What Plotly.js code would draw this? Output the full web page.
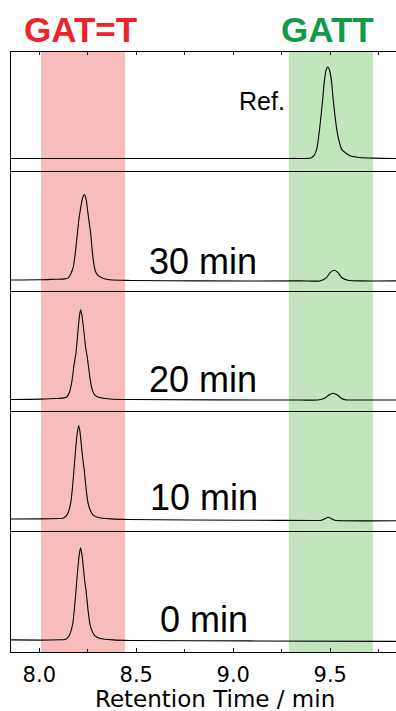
<!DOCTYPE html>
<html>
<head>
<meta charset="utf-8">
<script src="https://cdn.plot.ly/plotly-3.0.1.min.js"></script>
<style>
  html, body { margin: 0; padding: 0; background: #fff; }
  #chart { width: 396px; height: 711px; }
</style>
</head>
<body>
<div id="chart"></div>
<script>
// ---- Data (time in min, normalized signal) ----
const panelLabels = ['Ref.', '30 min', '20 min', '10 min', '0 min'];
const bandLabels = ['GAT=T', 'GATT'];
const bandRanges = [[8.009, 8.442], [9.287, 9.72]];
const majorTicks = [8.0, 8.5, 9.0, 9.5];
const majorTickText = ['8.0', '8.5', '9.0', '9.5'];

const timeRef = [7.854, 9.300, 9.400, 9.416, 9.430, 9.443, 9.461, 9.469, 9.478, 9.487, 9.497, 9.507, 9.515, 9.536, 9.559, 9.602, 9.650, 9.720, 9.839];
const signalRef = [0, 0, 0.005, 0.03, 0.098, 0.283, 0.641, 0.826, 0.95, 0.99, 0.95, 0.826, 0.641, 0.283, 0.098, 0.029, 0.01, 0.003, 0];

const time30 = [7.854, 8.004, 8.081, 8.132, 8.149, 8.163, 8.175, 8.187, 8.196, 8.205, 8.211, 8.222, 8.232, 8.241, 8.249, 8.258, 8.265, 8.274, 8.284, 8.292, 8.304, 8.328, 8.364, 8.468, 8.828, 9.344, 9.447, 9.478, 9.499, 9.521, 9.540, 9.560, 9.591, 9.653, 9.839];
const signal30 = [0.01, 0.012, 0.018, 0.022, 0.033, 0.08, 0.149, 0.33, 0.511, 0.68, 0.761, 0.89, 0.935, 0.89, 0.761, 0.62, 0.511, 0.3, 0.149, 0.09, 0.058, 0.03, 0.012, 0.005, 0, 0, 0, 0.03, 0.09, 0.116, 0.09, 0.035, 0.008, 0, 0];

const time20 = [7.854, 8.004, 8.081, 8.117, 8.141, 8.156, 8.169, 8.179, 8.189, 8.199, 8.207, 8.213, 8.220, 8.230, 8.239, 8.247, 8.259, 8.269, 8.282, 8.296, 8.323, 8.364, 8.468, 9.344, 9.437, 9.473, 9.493, 9.515, 9.537, 9.555, 9.576, 9.653, 9.839];
const signal20 = [0.005, 0.009, 0.016, 0.02, 0.033, 0.087, 0.217, 0.38, 0.511, 0.739, 0.913, 0.978, 0.913, 0.739, 0.565, 0.467, 0.272, 0.141, 0.065, 0.038, 0.022, 0.011, 0.005, 0, 0, 0.022, 0.054, 0.073, 0.054, 0.022, 0.003, 0, 0];

const time10 = [7.854, 8.004, 8.097, 8.122, 8.143, 8.162, 8.171, 8.179, 8.184, 8.189, 8.196, 8.203, 8.210, 8.217, 8.224, 8.231, 8.241, 8.251, 8.264, 8.277, 8.303, 8.370, 8.458, 9.086, 9.420, 9.455, 9.470, 9.490, 9.508, 9.525, 9.839];
const signal10 = [0.011, 0.012, 0.016, 0.02, 0.055, 0.185, 0.354, 0.552, 0.685, 0.806, 0.95, 1.022, 0.95, 0.806, 0.663, 0.552, 0.343, 0.185, 0.10, 0.055, 0.027, 0.012, 0.005, -0.002, -0.005, -0.002, 0.012, 0.03, 0.012, -0.003, -0.008];

const time0 = [7.854, 8.004, 8.107, 8.132, 8.153, 8.172, 8.181, 8.189, 8.194, 8.199, 8.206, 8.213, 8.220, 8.227, 8.234, 8.241, 8.251, 8.261, 8.274, 8.287, 8.313, 8.380, 8.468, 9.086, 9.839];
const signal0 = [0.011, 0.009, 0.013, 0.016, 0.054, 0.182, 0.348, 0.543, 0.674, 0.793, 0.935, 1.008, 0.935, 0.793, 0.652, 0.543, 0.337, 0.182, 0.098, 0.054, 0.027, 0.011, 0.005, 0, -0.005];

// ---- Build figure ----
const FONT = 'Arial, "Liberation Sans", sans-serif';
const AXFONT = '"DejaVu Sans", sans-serif';
const XR = [7.854, 9.839];
const series = [
  {t: timeRef, s: signalRef, ax: '5', base: -0.147},
  {t: time30, s: signal30, ax: '4', base: -0.12},
  {t: time20, s: signal20, ax: '3', base: -0.13},
  {t: time10, s: signal10, ax: '2', base: -0.13},
  {t: time0, s: signal0, ax: '', base: -0.12}
];
const SPAN = 1.3;
const LW = 1.4;

const traces = series.map(p => ({
  x: p.t, y: p.s, type: 'scatter', mode: 'lines',
  xaxis: 'x' + p.ax, yaxis: 'y' + p.ax,
  line: {color: '#000', width: 1.1, shape: 'spline', smoothing: 0.6},
  hoverinfo: 'skip', showlegend: false
}));

const layout = {
  width: 396, height: 711,
  margin: {l: 11, r: 0, t: 52, b: 59, pad: 0},
  paper_bgcolor: '#fff', plot_bgcolor: 'rgba(0,0,0,0)',
  showlegend: false,
  font: {family: FONT, color: '#000'},
  shapes: [], annotations: []
};

series.forEach((p, i) => {
  const k = p.ax;
  const slot = 4 - i; // bottom = 0
  const isBottom = k === '';
  const isTop = k === '5';
  const xa = {
    range: XR, domain: [0, 1], anchor: 'y' + k,
    showline: true, linecolor: '#000', linewidth: LW,
    mirror: isBottom,
    showgrid: false, zeroline: false,
    side: isBottom ? 'bottom' : 'top',
    ticks: (isBottom || isTop) ? 'inside' : '',
    tickcolor: '#000', tickwidth: 1,
    ticklen: isBottom ? 4 : 3,
    showticklabels: isBottom,
    fixedrange: true
  };
  if (isBottom) {
    xa.tickmode = 'array';
    xa.tickvals = majorTicks;
    xa.ticktext = majorTickText;
    xa.tickfont = {size: 21, family: AXFONT, color: '#000'};
    xa.ticklabelstandoff = 3;
    xa.minor = {tickmode: 'linear', tick0: 8.0, dtick: 0.25, ticks: 'inside', ticklen: 3, tickcolor: '#000', tickwidth: 1};
  } else {
    xa.matches = 'x';
    xa.tickmode = 'linear';
    xa.tick0 = 8.0;
    xa.dtick = 0.25;
  }
  layout['xaxis' + k] = xa;
  layout['yaxis' + k] = {
    domain: [slot * 0.2, slot * 0.2 + 0.2], anchor: 'x' + k,
    range: [p.base, p.base + SPAN],
    showline: true, linecolor: '#000', linewidth: LW, mirror: false,
    showgrid: false, zeroline: false, ticks: '', showticklabels: false,
    fixedrange: true
  };
});

// shaded retention windows
const bandColors = ['rgb(249,188,188)', 'rgb(194,229,189)'];
bandRanges.forEach((r, i) => {
  layout.shapes.push({
    type: 'rect', xref: 'x', yref: 'paper', x0: r[0], x1: r[1], y0: 0, y1: 1,
    fillcolor: bandColors[i], line: {width: 0}, layer: 'below'
  });
});

// band titles
const bandTextColors = ['#ee2329', '#139a48'];
const bandTextX = [8.21, 9.486];
bandLabels.forEach((t, i) => {
  layout.annotations.push({
    text: '<b>' + t + '</b>', xref: 'x', yref: 'paper', x: bandTextX[i], y: 1.0367,
    xanchor: 'center', yanchor: 'middle', showarrow: false,
    font: {size: 35, family: FONT, color: bandTextColors[i]}
  });
});

// panel labels
const labelPos = [
  {ax: '5', x: 9.15, y: 0.617, size: 25},
  {ax: '4', x: 8.842, y: 0.214, size: 36},
  {ax: '3', x: 8.842, y: 0.22, size: 36},
  {ax: '2', x: 8.85, y: 0.245, size: 36},
  {ax: '', x: 8.85, y: 0.233, size: 36}
];
panelLabels.forEach((t, i) => {
  const lp = labelPos[i];
  layout.annotations.push({
    text: t, xref: 'x' + lp.ax, yref: 'y' + lp.ax, x: lp.x, y: lp.y,
    xanchor: 'center', yanchor: 'middle', showarrow: false,
    font: {size: lp.size, family: FONT, color: '#000'}
  });
});

// x-axis title (centered on the full, cropped axis)
layout.annotations.push({
  text: 'Retention Time / min', xref: 'paper', yref: 'paper',
  x: 0.53, y: -0.0777, xanchor: 'center', yanchor: 'middle', showarrow: false,
  font: {size: 23, family: AXFONT, color: '#000'}
});

Plotly.newPlot('chart', traces, layout, {staticPlot: true, displayModeBar: false});
</script>
</body>
</html>
